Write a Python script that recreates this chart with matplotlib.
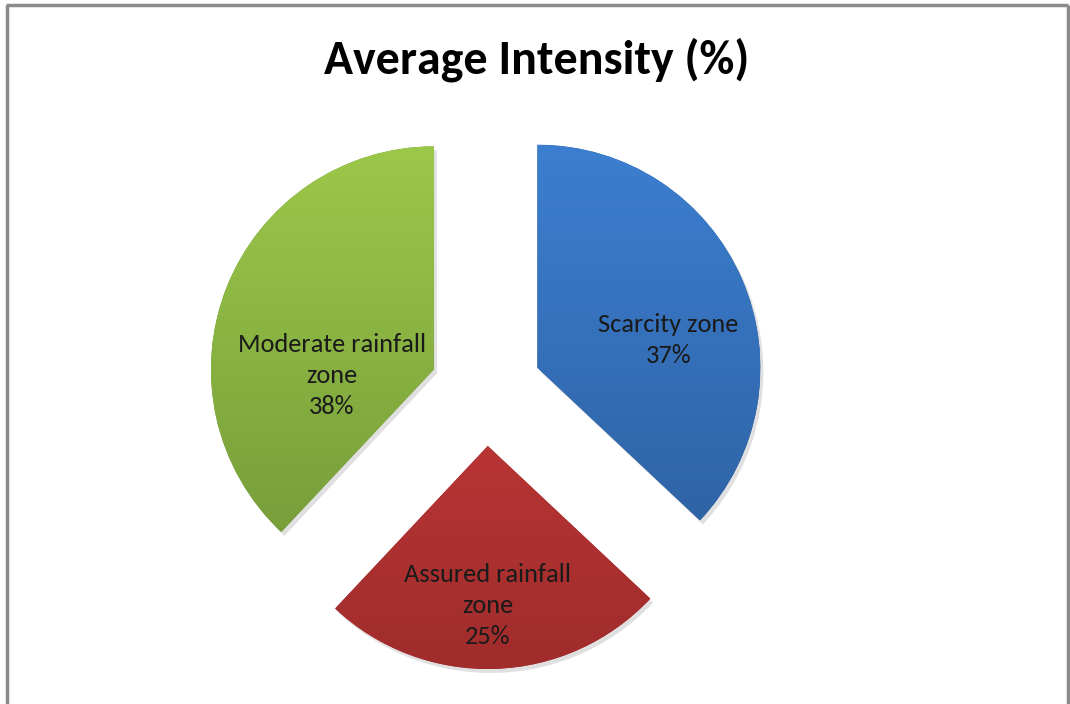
import matplotlib
matplotlib.use("Agg")
import matplotlib.pyplot as plt
import numpy as np
from matplotlib.colors import LinearSegmentedColormap
from matplotlib.font_manager import fontManager

# data
zones = ["Scarcity zone", "Assured rainfall\nzone", "Moderate rainfall\nzone"]
shares = [37, 25, 38]

# gradient colours (top, bottom) for each slice
top_colors = ["#3c7fd0", "#cf3d3d", "#9cc84a"]
bottom_colors = ["#2d5e9e", "#a02c2c", "#729838"]

names = {f.name for f in fontManager.ttflist}
font = "Carlito" if "Carlito" in names else "Open Sans"

W, H = 1070, 704
fig = plt.figure(figsize=(W / 100, H / 100), dpi=100)
ax = fig.add_axes([0, 0, 1, 1])

center = (486, H - 390)
radius = 223
wedges, _ = ax.pie(shares, center=center, radius=radius, startangle=90,
                   counterclock=False, explode=[56] * len(shares),
                   wedgeprops=dict(linewidth=0))

# label positions relative to each slice's apex (pixels, y up)
label_offsets = [(131, 28), (0, -160), (-102, -6)]

for w, c1, c2, lab, pct, off in zip(wedges, top_colors, bottom_colors,
                                     zones, shares, label_offsets):
    w.set_facecolor(c2)
    # soft shadow
    sh = plt.matplotlib.patches.Wedge((w.center[0] + 3, w.center[1] - 4), w.r,
                                      w.theta1, w.theta2, facecolor="#000000",
                                      alpha=0.12, linewidth=0, zorder=0.5)
    ax.add_patch(sh)
    cmap = LinearSegmentedColormap.from_list("g", [c2, c1])
    grad = np.linspace(0, 1, 256).reshape(-1, 1)
    cx, cy = w.center
    im = ax.imshow(grad, cmap=cmap, origin="lower", aspect="auto",
                   extent=[cx - radius, cx + radius, cy - radius, cy + radius],
                   zorder=2)
    im.set_clip_path(w)
    ax.text(cx + off[0], cy + off[1], f"{lab}\n{pct}%", ha="center",
            va="center", fontsize=19, family=font, color="#1a1a1a",
            linespacing=1.42, zorder=3)

ax.set_xlim(0, W)
ax.set_ylim(0, H)
ax.set_aspect("equal")
ax.axis("off")

fig.text(537 / W, 1 - 60 / H, "Average Intensity (%)", ha="center",
         va="center", fontsize=34.5, fontweight="bold", family=font)

# chart border (top, left, right)
for xs, ys in [([6, 1068], [H - 5, H - 5]), ([7, 7], [0, H - 5]),
               ([1068, 1068], [0, H - 5])]:
    ax.plot(xs, ys, color="#8a8a8a", linewidth=2.5, solid_capstyle="butt")

fig.savefig("out.png", dpi=100)
